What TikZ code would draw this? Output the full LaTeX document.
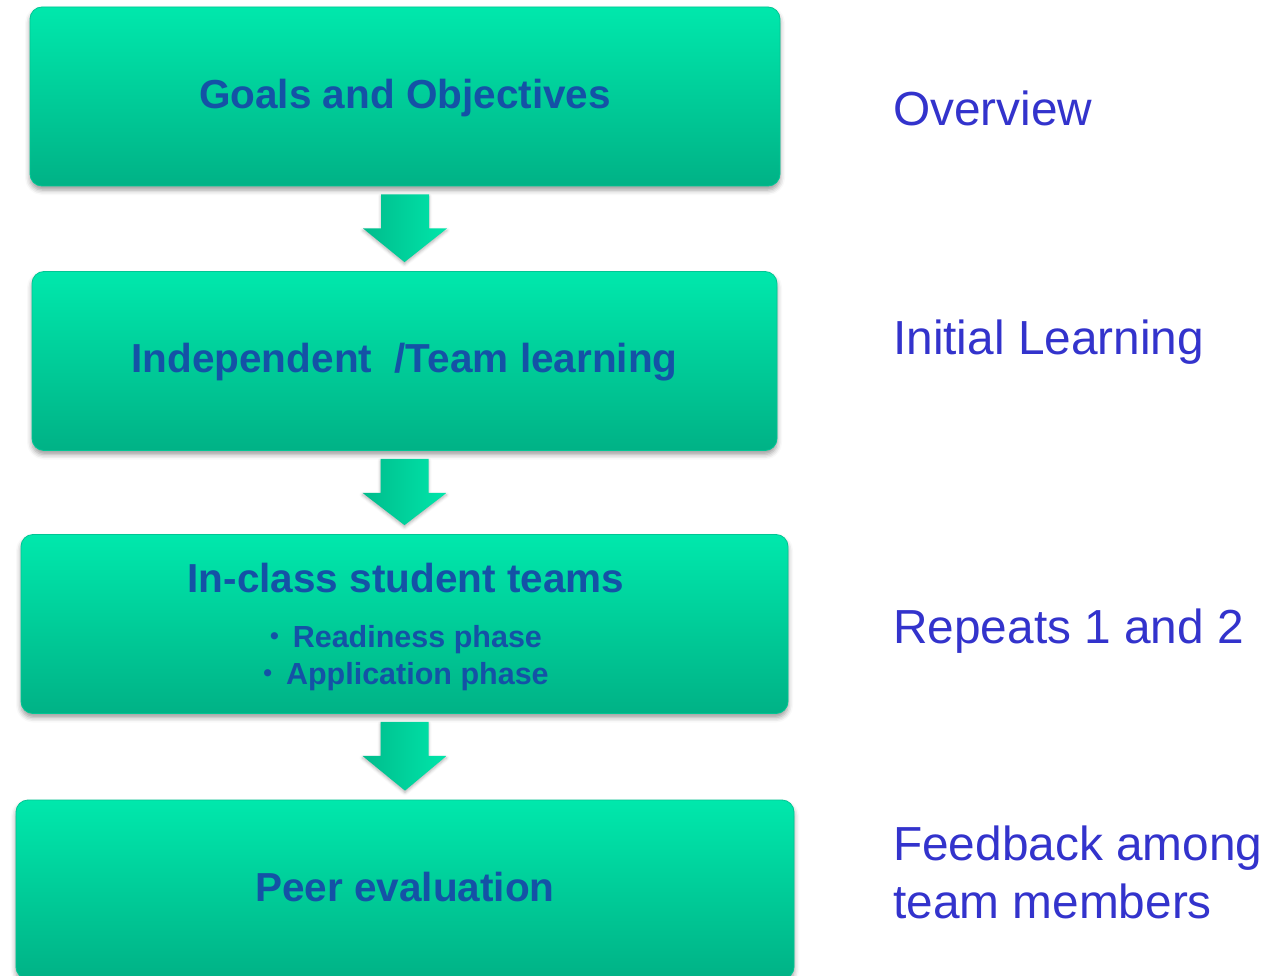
\documentclass[tikz,border=0pt]{standalone}
\usepackage{fontspec}
\setmainfont{Liberation Sans}
\usetikzlibrary{calc,shadows.blur}

\definecolor{boxtop}{RGB}{0,232,172}
\definecolor{boxmid}{RGB}{0,212,158}
\definecolor{boxbot}{RGB}{0,178,134}
\definecolor{boxedge}{RGB}{0,198,148}
\definecolor{boxtext}{RGB}{20,82,166}
\definecolor{sidetext}{RGB}{51,51,204}
\definecolor{arrowleft}{RGB}{0,188,140}
\definecolor{arrowright}{RGB}{0,230,170}

\tikzset{
  stagebox/.style={rounded corners=12pt, draw=boxedge, line width=0.8pt,
    top color=boxtop, middle color=boxmid, bottom color=boxbot,
    minimum height=179pt, inner sep=0pt, text height=30pt, text depth=6pt,
    text=boxtext, font={\fontsize{40.5}{48}\selectfont\bfseries},
    blur shadow={shadow xshift=0pt, shadow yshift=-4pt, shadow blur radius=5pt, shadow opacity=40}},
  boxtitle/.style={anchor=base, inner sep=0pt, text=boxtext,
    font={\fontsize{40.5}{48}\selectfont\bfseries}},
  bulletline/.style={anchor=base, inner sep=0pt, text=boxtext,
    font={\fontsize{30.5}{36}\selectfont\bfseries}},
  sidelabel/.style={anchor=base west, inner sep=0pt, text=sidetext,
    font={\fontsize{47.8}{58}\selectfont}},
  stagearrow/.style={left color=arrowleft, right color=arrowright,
    blur shadow={shadow xshift=0pt, shadow yshift=-2pt, shadow blur radius=3pt, shadow opacity=30}}
}

% small list bullet followed by its gap
\newcommand\smallbullet{\raisebox{2.5pt}{\fontsize{25}{25}\selectfont\textbullet}\hspace{14pt}}

% block arrow from the bottom of one stage to the top of the next
\newcommand\stagearrow[2]{%
  \path[stagearrow] ($(#1.south)+(-24,8)$) -- ($(#1.south)+(24,8)$)
    -- ($(#1.south)+(24,42)$) -- ($(#1.south)+(42,42)$)
    -- ($(#2.north)+(0,-9)$)
    -- ($(#1.south)+(-42,42)$) -- ($(#1.south)+(-24,42)$) -- cycle;}

\begin{document}
\begin{tikzpicture}[x=1pt, y=-1pt]
  \useasboundingbox (0,0) rectangle (1280,976);

  % stages
  \node[stagebox, minimum width=750pt] (b1) at (405,96.5) {Goals and Objectives};
  \node[stagebox, minimum width=745pt] (b2) at (404.5,361) {Independent\ \ /Team learning};
  \node[stagebox, minimum width=767pt] (b3) at (404.5,624) {};
  \node[stagebox, minimum width=778pt] (b4) at (405,889.5) {Peer evaluation};

  % content of the third stage
  \node[boxtitle] (b3title) at (406,592) {In-class student teams};
  \node[bulletline] (b3first) at (406,647) {\smallbullet Readiness phase};
  \node[bulletline] (b3second) at (406,684) {\smallbullet Application phase};

  % flow between stages
  \stagearrow{b1}{b2}
  \stagearrow{b2}{b3}
  \stagearrow{b3}{b4}

  % stage descriptions
  \node[sidelabel] (d1) at (893,126) {Overview};
  \node[sidelabel] (d2) at (893,355) {Initial Learning};
  \node[sidelabel] (d3) at (893,643) {Repeats 1 and 2};
  \node[sidelabel] (d4a) at (893,860) {Feedback among};
  \node[sidelabel] (d4b) at (893,918) {team members};
\end{tikzpicture}
\end{document}
